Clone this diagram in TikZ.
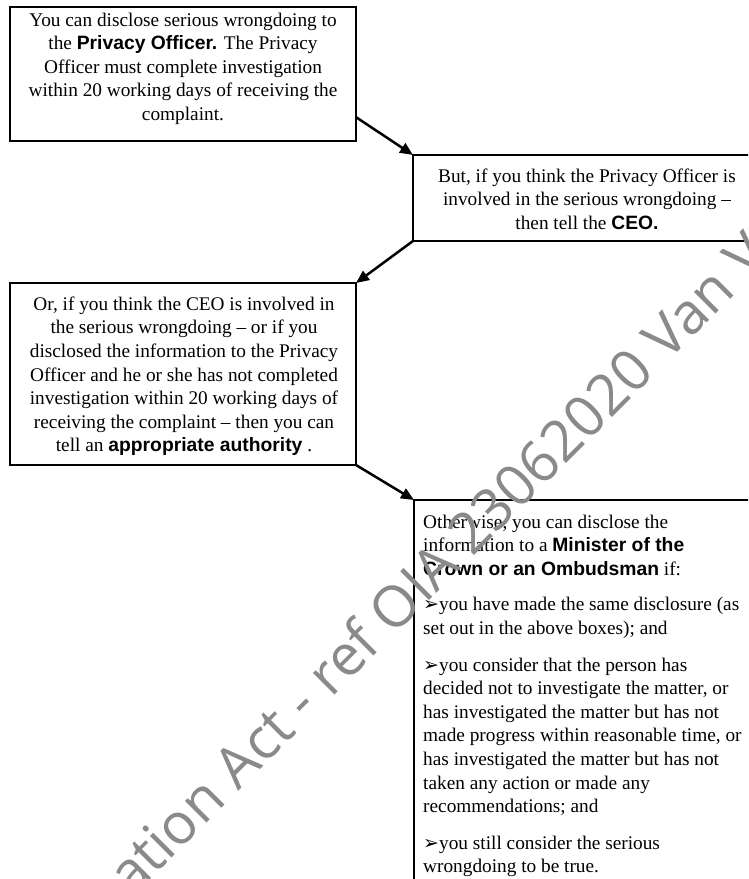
\documentclass[tikz,border=0pt]{standalone}
\usepackage{fontspec}
\setmainfont{Liberation Serif}
\newfontfamily\arialfont{Liberation Sans}
\newfontfamily\dejavufont{DejaVu Sans}
\newfontfamily\wmfont{Open Sans}
\usetikzlibrary{arrows.meta}
\newcommand{\B}[1]{{\arialfont\bfseries #1}}
\newcommand{\abul}{{\dejavufont\fontsize{19}{19}\selectfont ➢}}
\definecolor{wmgray}{RGB}{138,138,138}
\begin{document}
\begin{tikzpicture}[x=1pt,y=-1pt,
  boxshape/.style={rectangle, draw=black, line width=2.5pt, inner sep=0pt, outer sep=0pt},
  boxtext/.style={inner sep=0pt, font=\fontsize{19.3}{23.6}\selectfont},
  conn/.style={line width=2.5pt, -{Triangle[length=13pt,width=11pt]}},
  wm/.style={text=wmgray, inner sep=0pt, font=\wmfont\fontsize{57}{57}\selectfont}]
\useasboundingbox (0,0) rectangle (748,879);
\clip (0,0) rectangle (748,879);
\fill[white] (0,0) rectangle (748,879);

% boxes
\node[boxshape, minimum width=346pt, minimum height=134pt] (b1) at (183,74) {};
\node[boxshape, minimum width=349pt, minimum height=86pt] (b2) at (587.5,198) {};
\node[boxshape, minimum width=346pt, minimum height=182pt] (b3) at (183,374) {};
\node[boxshape, minimum width=348pt, minimum height=400pt] (b4) at (588,700) {};

% texts
\node[boxtext, align=center, anchor=north] (t1) at (183,12.5)
{You can disclose serious wrongdoing to\\
the \B{Privacy Officer.} The Privacy\\
Officer must complete investigation\\
within 20 working days of receiving the\\
complaint.};

\node[boxtext, align=center, anchor=north] (t2) at (587,168.5)
{But, if you think the Privacy Officer is\\
involved in the serious wrongdoing --\\
then tell the \B{CEO.}};

\node[boxtext, align=center, anchor=north] (t3) at (184,296.5)
{Or, if you think the CEO is involved in\\
the serious wrongdoing -- or if you\\
disclosed the information to the Privacy\\
Officer and he or she has not completed\\
investigation within 20 working days of\\
receiving the complaint -- then you can\\
tell an \B{appropriate authority} .};

\node[boxtext, align=left, anchor=north west] (t4) at (423,514.5)
{Otherwise, you can disclose the\\
information to a \B{Minister of the}\\
\B{Crown or an Ombudsman} if:\\[12pt]
\abul you have made the same disclosure (as\\
set out in the above boxes); and\\[13pt]
\abul you consider that the person has\\
decided not to investigate the matter, or\\
has investigated the matter but has not\\
made progress within reasonable time, or\\
has investigated the matter but has not\\
taken any action or made any\\
recommendations; and\\[13pt]
\abul you still consider the serious\\
wrongdoing to be true.};

% connectors
\draw[conn] (b1.-14) -- (b2.north west);
\draw[conn] (b2.south west) -- (b3.north east);
\draw[conn] (b3.south east) -- (b4.north west);

% watermark
\node[wm, rotate=45, anchor=base west] (wmark) at (132,898) {ation Act - ref OIA 23062020 Van V};
\end{tikzpicture}
\end{document}
